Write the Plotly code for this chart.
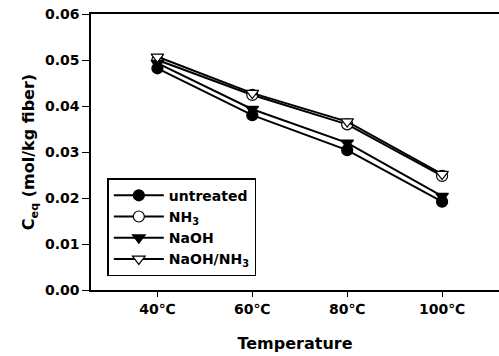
import plotly.graph_objects as go

categories = ["40℃", "60℃", "80℃", "100℃"]
untreated = [0.0482, 0.0380, 0.0304, 0.0192]
nh3 = [0.0500, 0.0424, 0.0360, 0.0248]
naoh = [0.0493, 0.0393, 0.0320, 0.0204]
naoh_nh3 = [0.0507, 0.0428, 0.0366, 0.0252]

names = ["untreated", "NH<sub>3</sub>", "NaOH", "NaOH/NH<sub>3</sub>"]
series = [untreated, nh3, naoh, naoh_nh3]
symbols = ["circle", "circle", "triangle-down", "triangle-down"]
fills = ["black", "white", "black", "white"]
xpos = list(range(len(categories)))

fig = go.Figure()
for name, vals, sym, fc in zip(names, series, symbols, fills):
    fig.add_trace(go.Scatter(
        x=xpos, y=vals, name=name, mode="lines+markers",
        line=dict(color="black", width=2),
        marker=dict(symbol=sym, size=11, color=fc,
                    line=dict(color="black", width=1.2)),
    ))

FAM = "DejaVu Sans"
font = dict(family=FAM, size=14, color="black", weight="bold")
fig.update_layout(
    width=499, height=356,
    margin=dict(l=91, r=0, t=14, b=66),
    plot_bgcolor="white", paper_bgcolor="white",
    font=font,
    showlegend=True,
    legend=dict(x=0.04, y=0.05, xanchor="left", yanchor="bottom",
                bordercolor="black", borderwidth=1.5, bgcolor="white",
                font=dict(family=FAM, size=14, color="black", weight="bold"),
                tracegroupgap=0, itemwidth=50),
    xaxis=dict(range=[-0.7, 3.6], tickvals=xpos, ticktext=categories,
               showline=True, linecolor="black", linewidth=1.5, mirror=True,
               ticks="outside", ticklen=5, tickcolor="black", showgrid=False, zeroline=False,
               title=dict(text="Temperature", font=dict(size=16, family=FAM, weight="bold"), standoff=22),
               tickfont=font),
    yaxis=dict(range=[0, 0.06], tickvals=[0, 0.01, 0.02, 0.03, 0.04, 0.05, 0.06],
               tickformat=".2f",
               showline=True, linecolor="black", linewidth=1.5, mirror=False,
               ticks="outside", ticklen=7, tickcolor="black", showgrid=False, zeroline=False,
               title=dict(text="C<sub>eq</sub> (mol/kg fiber)", font=dict(size=16, family=FAM, weight="bold"), standoff=6),
               tickfont=font),
)
fig.write_html("out.html", config={"displayModeBar": False},
               post_script="document.body.style.margin='0';document.body.style.overflow='hidden';")
